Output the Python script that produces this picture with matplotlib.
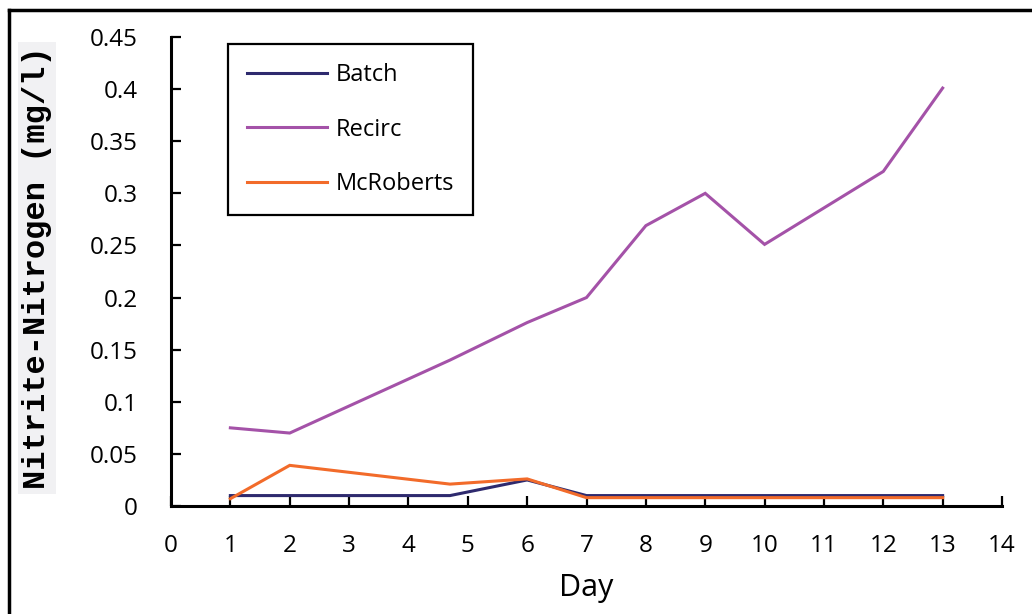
import matplotlib.pyplot as plt
from matplotlib.lines import Line2D

days = [1, 2, 4.7, 6, 7, 8, 9, 10, 12, 13]
batch = [0.010, 0.010, 0.010, 0.025, 0.010, 0.010, 0.010, 0.010, 0.010, 0.010]
recirc = [0.075, 0.070, 0.140, 0.176, 0.200, 0.269, 0.300, 0.251, 0.321, 0.401]
mcroberts = [0.007, 0.039, 0.021, 0.026, 0.008, 0.008, 0.008, 0.008, 0.008, 0.008]

series_names = ["Batch", "Recirc", "McRoberts"]
colors = ["#2e2a6e", "#a452a8", "#f26b2a"]
x_ticks = list(range(0, 15))
y_ticks = [0, 0.05, 0.1, 0.15, 0.2, 0.25, 0.3, 0.35, 0.4, 0.45]
y_tick_labels = ["0", "0.05", "0.1", "0.15", "0.2", "0.25", "0.3", "0.35", "0.4", "0.45"]

plt.rcParams["font.family"] = ["Open Sans", "DejaVu Sans"]

fig = plt.figure(figsize=(10.32, 6.14), dpi=100)
ax = fig.add_axes([171 / 1032, 1 - 506 / 614, 831 / 1032, 469 / 614])

for vals, name, c in zip([batch, recirc, mcroberts], series_names, colors):
    ax.plot(days, vals, color=c, lw=2.2, label=name, solid_joinstyle="miter")

ax.set_xlim(0, 14)
ax.set_ylim(0, 0.45)
ax.set_xticks(x_ticks)
ax.set_yticks(y_ticks)
ax.set_yticklabels(y_tick_labels)
ax.tick_params(direction="in", length=7, width=1.6, labelsize=17.5)
ax.tick_params(axis="x", pad=20)
ax.tick_params(axis="y", pad=24)
for s in ["top", "right"]:
    ax.spines[s].set_visible(False)
for s in ["left", "bottom"]:
    ax.spines[s].set_linewidth(2.2)

ax.set_xlabel("Day", fontsize=22, labelpad=11)

fig.text(37 / 1032, 1 - 268 / 614, "Nitrite-Nitrogen (mg/l)", rotation=90,
         ha="center", va="center", fontsize=23, fontweight="bold",
         family=["Liberation Mono", "DejaVu Sans Mono"],
         bbox=dict(facecolor="#f1f1f3", edgecolor="none", pad=3))

leg = ax.legend(loc="upper left", bbox_to_anchor=((228 - 171) / 831, (506 - 44) / 469),
                borderaxespad=0, fancybox=False, edgecolor="black", fontsize=17,
                handlelength=3.4, handletextpad=0.35, labelspacing=1.3,
                borderpad=0.8, framealpha=1)
leg.get_frame().set_linewidth(1.6)

# outer frame (only top and left edges are visible in the crop)
fig.add_artist(Line2D([9 / 1032, 9 / 1032], [0, 1 - 10 / 614], color="black", lw=2.5,
                      transform=fig.transFigure))
fig.add_artist(Line2D([9 / 1032, 1], [1 - 10 / 614, 1 - 10 / 614], color="black", lw=2.5,
                      transform=fig.transFigure))

fig.savefig("out.png", dpi=100)
